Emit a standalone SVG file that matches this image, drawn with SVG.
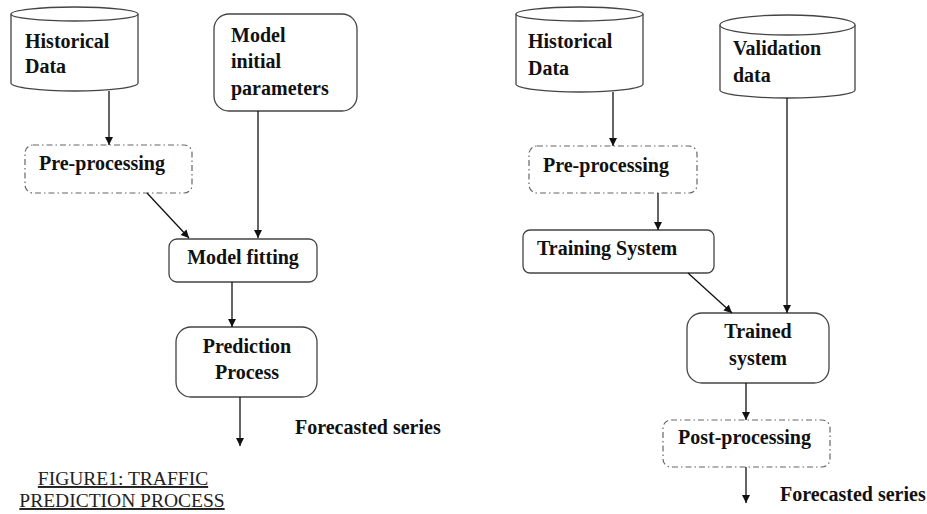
<svg xmlns="http://www.w3.org/2000/svg" width="927" height="514" viewBox="0 0 927 514">
<style>
.shape{fill:#fff;stroke:#444;stroke-width:1.3}
.dd{fill:#fff;stroke:#666;stroke-width:1.2;stroke-dasharray:6 3 1.5 3}
.t{font-family:"Liberation Serif","Times New Roman",serif;font-weight:bold;font-size:20px;fill:#111}
.cap{font-family:"Liberation Serif","Times New Roman",serif;font-size:19.5px;fill:#222;text-decoration:underline}
.c{fill:none;stroke:#111;stroke-width:1.3}
</style>
<defs>
<marker id="ah" markerUnits="userSpaceOnUse" markerWidth="9" markerHeight="9" refX="8" refY="4" orient="auto">
<path d="M0,0 L8,4 L0,8 z" fill="#111"/>
</marker>
</defs>
<rect width="927" height="514" fill="#fff"/>

<g id="hist1">
<path class="shape" d="M11,14 V83 A63.5,8 0 0 0 138,83 V14"/>
<ellipse class="shape" cx="74.5" cy="14" rx="63.5" ry="7"/>
<text class="t" x="25" y="48">Historical</text>
<text class="t" x="25" y="73">Data</text>
</g>
<g id="params">
<rect class="shape" x="214" y="14" width="143" height="97" rx="15"/>
<text class="t" x="231" y="42">Model</text>
<text class="t" x="231" y="68">initial</text>
<text class="t" x="231" y="95">parameters</text>
</g>
<g id="pre1">
<rect class="dd" x="25" y="145" width="167" height="48" rx="8"/>
<text class="t" x="39" y="170">Pre-processing</text>
</g>
<g id="fit">
<rect class="shape" x="169" y="239" width="148" height="43" rx="8"/>
<text class="t" x="243" y="264" text-anchor="middle">Model fitting</text>
</g>
<g id="pred">
<rect class="shape" x="176" y="327" width="141" height="70" rx="15"/>
<text class="t" x="247" y="353" text-anchor="middle">Prediction</text>
<text class="t" x="247" y="379" text-anchor="middle">Process</text>
</g>
<g id="out1">
<text class="t" x="295" y="434">Forecasted series</text>
</g>
<g id="caption">
<text class="cap" x="123" y="485" text-anchor="middle">FIGURE1: TRAFFIC</text>
<text class="cap" x="122" y="507" text-anchor="middle">PREDICTION PROCESS</text>
</g>

<g id="hist2">
<path class="shape" d="M516,14 V84 A63.5,8 0 0 0 643,84 V14"/>
<ellipse class="shape" cx="579.5" cy="14" rx="63.5" ry="7"/>
<text class="t" x="528" y="48">Historical</text>
<text class="t" x="528" y="75">Data</text>
</g>
<g id="valid">
<path class="shape" d="M720,25 V90 A67.5,8 0 0 0 855,90 V25"/>
<ellipse class="shape" cx="787.5" cy="25" rx="67.5" ry="10"/>
<text class="t" x="733" y="55">Validation</text>
<text class="t" x="733" y="82">data</text>
</g>
<g id="pre2">
<rect class="dd" x="529" y="146" width="168" height="47" rx="8"/>
<text class="t" x="543" y="172">Pre-processing</text>
</g>
<g id="train">
<rect class="shape" x="523" y="230" width="191" height="43" rx="7"/>
<text class="t" x="537" y="255">Training System</text>
</g>
<g id="trained">
<rect class="shape" x="687" y="313" width="142" height="70" rx="15"/>
<text class="t" x="758" y="338" text-anchor="middle">Trained</text>
<text class="t" x="758" y="365" text-anchor="middle">system</text>
</g>
<g id="post">
<rect class="dd" x="663" y="420" width="167" height="47" rx="8"/>
<text class="t" x="678" y="444">Post-processing</text>
</g>
<g id="out2">
<text class="t" x="780" y="501">Forecasted series</text>
</g>

<g id="connectors">
<line class="c" x1="109" y1="91" x2="109" y2="145" marker-end="url(#ah)"/>
<line class="c" x1="258" y1="111" x2="258" y2="238" marker-end="url(#ah)"/>
<line class="c" x1="147" y1="193" x2="189" y2="238" marker-end="url(#ah)"/>
<line class="c" x1="232" y1="282" x2="232" y2="327" marker-end="url(#ah)"/>
<line class="c" x1="240" y1="397" x2="240" y2="446" marker-end="url(#ah)"/>
<line class="c" x1="613" y1="92" x2="613" y2="146" marker-end="url(#ah)"/>
<line class="c" x1="658" y1="193" x2="658" y2="230" marker-end="url(#ah)"/>
<line class="c" x1="787" y1="98" x2="787" y2="313" marker-end="url(#ah)"/>
<line class="c" x1="688" y1="273" x2="732" y2="313" marker-end="url(#ah)"/>
<line class="c" x1="746" y1="383" x2="746" y2="420" marker-end="url(#ah)"/>
<line class="c" x1="746" y1="467" x2="746" y2="503" marker-end="url(#ah)"/>
</g>
</svg>
